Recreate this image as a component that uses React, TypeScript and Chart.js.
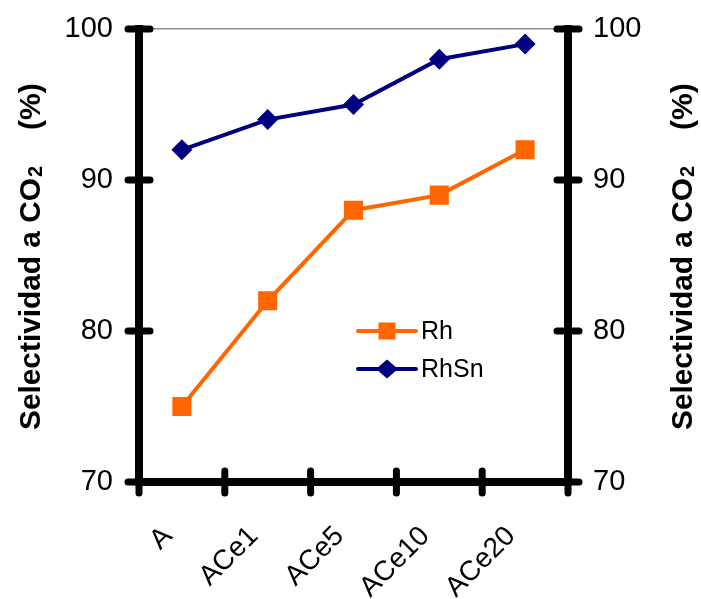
import React, { useEffect, useRef } from "react";
import { Chart, registerables } from "chart.js";

Chart.register(...registerables);

// Catalysts on the x axis and CO2 selectivity (%) for each series
const categories = ["A", "ACe1", "ACe5", "ACe10", "ACe20"];
const rhValues = [75, 82, 88, 89, 92];
const rhSnValues = [92, 94, 95, 98, 99];
const yTickValues = [70, 80, 90, 100];
const seriesNames = ["Rh", "RhSn"];
const titleMain = "Selectividad a CO";
const titleSub = "2";
const titleUnit = "(%)";

const FONT = "'Liberation Sans', Arial, Helvetica, sans-serif";
const ORANGE = "#FF6600";
const NAVY = "#000080";

// Cross-shaped tick marks on the axes, the inner legend and the rotated axis titles
const decorations = {
  id: "decorations",
  afterDraw(chart: any) {
    const { ctx, chartArea, scales } = chart;
    const x = scales.x;
    const yl = scales.y;
    ctx.save();
    ctx.strokeStyle = "#000";
    ctx.lineWidth = 7;
    ctx.lineCap = "round";
    // y ticks crossing both vertical axes
    for (const v of yTickValues) {
      const py = yl.getPixelForValue(v);
      for (const ax of [chartArea.left, chartArea.right]) {
        ctx.beginPath();
        ctx.moveTo(ax - 11, py);
        ctx.lineTo(ax + 11, py);
        ctx.stroke();
      }
    }
    // x ticks on category boundaries
    for (let i = 0; i <= categories.length; i++) {
      const px = x.getPixelForValue(i - 0.5);
      ctx.beginPath();
      ctx.moveTo(px, chartArea.bottom - 11);
      ctx.lineTo(px, chartArea.bottom + 11);
      ctx.stroke();
    }
    ctx.restore();

    // legend inside the plot
    const legendX0 = 358;
    const legendX1 = 416;
    const legendRows = [331, 369];
    chart.data.datasets.forEach((ds: any, i: number) => {
      const ly = legendRows[i];
      ctx.save();
      ctx.strokeStyle = ds.borderColor;
      ctx.lineWidth = ds.borderWidth;
      ctx.lineCap = "round";
      ctx.beginPath();
      ctx.moveTo(legendX0, ly);
      ctx.lineTo(legendX1, ly);
      ctx.stroke();
      ctx.fillStyle = ds.backgroundColor;
      const cx = (legendX0 + legendX1) / 2;
      if (ds.pointStyle === "rect") {
        ctx.fillRect(cx - 8.5, ly - 8.5, 17, 17);
      } else {
        ctx.beginPath();
        ctx.moveTo(cx - 11, ly);
        ctx.lineTo(cx, ly - 9.5);
        ctx.lineTo(cx + 11, ly);
        ctx.lineTo(cx, ly + 9.5);
        ctx.closePath();
        ctx.fill();
      }
      ctx.fillStyle = "#000";
      ctx.font = `25px ${FONT}`;
      ctx.textAlign = "left";
      ctx.textBaseline = "middle";
      ctx.fillText(ds.label, 421, ly + 1);
      ctx.restore();
    });

    // axis titles, rotated to read upwards, with a subscript digit
    const start = chartArea.bottom - 52;
    for (const bx of [40, 692]) {
      ctx.save();
      ctx.translate(bx, start);
      ctx.rotate(-Math.PI / 2);
      ctx.fillStyle = "#000";
      ctx.textAlign = "left";
      ctx.textBaseline = "alphabetic";
      ctx.font = `bold 30px ${FONT}`;
      const w30 = ctx.measureText(titleMain).width;
      const mainSize = Math.min(31, (30 * 252) / w30);
      ctx.font = `bold ${mainSize}px ${FONT}`;
      ctx.fillText(titleMain, 0, 0);
      const wMain = ctx.measureText(titleMain).width;
      ctx.font = `bold 20px ${FONT}`;
      ctx.fillText(titleSub, wMain + 1, 2);
      ctx.font = `bold 30px ${FONT}`;
      ctx.fillText(titleUnit, 300, 0);
      ctx.restore();
    }
  },
};

export default function App() {
  const canvasRef = useRef<HTMLCanvasElement | null>(null);

  useEffect(() => {
    if (!canvasRef.current) return;
    const chart = new Chart(canvasRef.current, {
      type: "line",
      data: {
        labels: categories,
        datasets: [
          {
            label: seriesNames[0],
            data: rhValues,
            borderColor: ORANGE,
            backgroundColor: ORANGE,
            borderWidth: 4,
            pointStyle: "rect",
            pointRadius: 13.5,
            pointHoverRadius: 13.5,
            pointBorderWidth: 0,
            pointBackgroundColor: ORANGE,
            tension: 0,
          },
          {
            label: seriesNames[1],
            data: rhSnValues,
            borderColor: NAVY,
            backgroundColor: NAVY,
            borderWidth: 4,
            pointStyle: "rectRot",
            pointRadius: 10.5,
            pointHoverRadius: 10.5,
            pointBorderWidth: 0,
            pointBackgroundColor: NAVY,
            tension: 0,
          },
        ],
      },
      options: {
        responsive: false,
        animation: false,
        devicePixelRatio: 1,
        layout: { padding: { top: 29, left: 0, right: 0, bottom: 0 } },
        plugins: {
          legend: { display: false },
          tooltip: { enabled: false },
          title: { display: false },
        },
        scales: {
          x: {
            type: "category",
            offset: true,
            grid: { display: false, drawTicks: false, offset: true },
            border: { display: true, color: "#000", width: 8 },
            ticks: {
              color: "#000",
              font: { family: FONT, size: 28 },
              minRotation: 45,
              maxRotation: 45,
              autoSkip: false,
              padding: 38,
              labelOffset: -14,
            },
            afterFit(scale: any) {
              scale.height = 117;
              scale.paddingLeft = 0;
              scale.paddingRight = 0;
            },
          },
          y: {
            position: "left",
            min: 70,
            max: 100,
            grid: {
              drawTicks: false,
              color: (c: any) => (c.tick && c.tick.value === 100 ? "#8c8c8c" : "rgba(0,0,0,0)"),
              lineWidth: 1.5,
            },
            border: { display: true, color: "#000", width: 8 },
            ticks: {
              stepSize: 10,
              color: "#000",
              font: { family: FONT, size: 29 },
              padding: 26,
            },
            afterFit(scale: any) {
              scale.width = 139;
              scale.paddingTop = 0;
              scale.paddingBottom = 0;
            },
          },
          y2: {
            position: "right",
            min: 70,
            max: 100,
            grid: { display: false, drawTicks: false },
            border: { display: true, color: "#000", width: 8 },
            ticks: {
              stepSize: 10,
              color: "#000",
              font: { family: FONT, size: 29 },
              padding: 25,
            },
            afterFit(scale: any) {
              scale.width = 133;
              scale.paddingTop = 0;
              scale.paddingBottom = 0;
            },
          },
        },
      },
      plugins: [decorations],
    });
    return () => chart.destroy();
  }, []);

  return (
    <div style={{ position: "absolute", left: 0, top: 0, width: 701, height: 599, background: "#fff" }}>
      <canvas ref={canvasRef} width={701} height={599} />
    </div>
  );
}
